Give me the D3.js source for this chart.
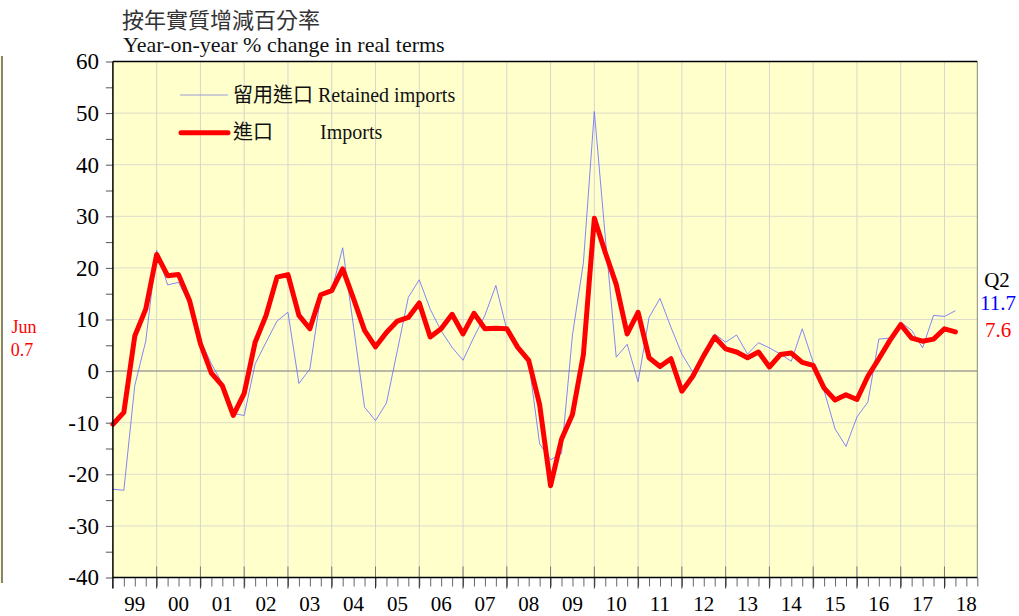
<!DOCTYPE html>
<html><head><meta charset="utf-8">
<script src="https://cdn.jsdelivr.net/npm/d3@7/dist/d3.min.js"></script>
<style>body{margin:0;background:#fff}svg{display:block}</style>
</head><body>
<svg id="c" width="1019" height="616"></svg>
<script>
// ---- data (quarterly, 1999 Q1 .. 2018 Q2) ----
const startYear = 1999;
const yearLabels = ["99","00","01","02","03","04","05","06","07","08","09","10","11","12","13","14","15","16","17","18"];
const yTicks = [-40,-30,-20,-10,0,10,20,30,40,50,60];
const imports = [
 -10.3,-8.0,6.8,12.0, 22.6,18.5,18.7,13.7, 5.3,-0.4,-2.8,-8.6, -4.3,5.6,10.8,18.2,
 18.7,10.8,8.2,14.8, 15.6,19.8,14.0,7.9, 4.7,7.5,9.7,10.4, 13.2,6.6,8.2,11.0,
 7.2,11.2,8.2,8.3, 8.2,4.6,2.1,-6.5, -22.2,-13.2,-8.4,3.2, 29.6,23.0,16.8,7.2,
 11.4,2.6,0.9,2.4, -3.9,-1.0,3.0,6.6, 4.3,3.7,2.6,3.7, 0.8,3.2,3.5,1.7,
 1.1,-3.3,-5.6,-4.6, -5.5,-1.0,2.4,5.9, 9.0,6.4,5.8,6.2, 8.2,7.6];
const retainedImports = [
 -22.9,-23.1,-2.8,5.8, 23.4,16.7,17.2,13.0, 6.0,1.4,-2.4,-8.2, -8.6,1.4,5.6,9.7,
 11.4,-2.4,0.4,14.6, 15.6,23.9,8.5,-7.0, -9.6,-6.2,4.0,14.3, 17.7,12.0,7.8,4.6,
 2.1,6.6,10.8,16.6, 8.0,4.0,1.9,-14.1, -17.2,-16.0,7.0,21.0, 50.3,26.0,2.7,5.2,
 -2.1,10.4,14.1,8.5, 3.3,-0.2,3.0,7.2, 5.6,7.0,3.3,5.5, 4.5,3.3,1.9,8.2,
 1.7,-3.8,-11.2,-14.6, -8.9,-6.0,6.2,6.4, 9.5,7.9,4.5,10.8, 10.6,11.7];
const seriesNames = {retained:"留用進口", retainedEn:"Retained imports", imp:"進口", impEn:"Imports"};
const latest = {label:"Q2", retained:"11.7", imp:"7.6"};
const leftNote = {label:"Jun", value:"0.7"};

// ---- layout ----
const svg = d3.select("#c");
const L = 112.9, R = 977.3, T = 61.5, B = 577.5;
const nQ = 79; // quarters shown (through 2018 Q3)
const x = d3.scaleLinear().domain([0, nQ]).range([L, R]);
const y = d3.scaleLinear().domain([-40, 60]).range([B, T]);
const serif = "'Liberation Serif','Times New Roman',serif";
const cjk = "'Liberation Serif','Noto Sans CJK TC','Noto Sans CJK SC',serif";

// left neighbour chart fragment
svg.append("rect").attr("x",0).attr("y",56).attr("width",2.5).attr("height",527).attr("fill","#ffffcc");
svg.append("line").attr("x1",2).attr("x2",2).attr("y1",56).attr("y2",583).attr("stroke","#333").attr("stroke-width",1.2);

// plot background
svg.append("rect").attr("x",L).attr("y",T).attr("width",R-L).attr("height",B-T).attr("fill","#ffffcc");

// grid
svg.append("g").selectAll("line").data(yTicks.filter(v=>v!==0 && v!==60 && v!==-40)).join("line")
  .attr("x1",L).attr("x2",R).attr("y1",d=>y(d)).attr("y2",d=>y(d))
  .attr("stroke","#dcdccc").attr("stroke-width",1);
svg.append("g").selectAll("line").data(d3.range(4, nQ, 4)).join("line")
  .attr("x1",d=>x(d)).attr("x2",d=>x(d)).attr("y1",T).attr("y2",B)
  .attr("stroke","#d6d6cc").attr("stroke-width",1);
svg.append("line").attr("x1",L).attr("x2",R).attr("y1",y(0)).attr("y2",y(0))
  .attr("stroke","#a0a098").attr("stroke-width",1.5);

// major tick stubs inside plot
svg.append("g").selectAll("line").data(d3.range(4, nQ, 4)).join("line")
  .attr("x1",d=>x(d)).attr("x2",d=>x(d)).attr("y1",B-11).attr("y2",B)
  .attr("stroke","#777").attr("stroke-width",1);

// frame
svg.append("line").attr("x1",R).attr("x2",R).attr("y1",T).attr("y2",B).attr("stroke","#8a8a70").attr("stroke-width",1);
svg.append("line").attr("x1",L).attr("x2",R).attr("y1",T).attr("y2",T).attr("stroke","#000").attr("stroke-width",1.5);

// lines
const line = d3.line().x((d,i)=>x(i)).y(d=>y(d));
svg.append("path").datum(retainedImports).attr("d",line).attr("fill","none")
  .attr("stroke","#6e6eff").attr("stroke-width",0.85).attr("stroke-linejoin","miter");
svg.append("path").datum(imports).attr("d",line).attr("fill","none")
  .attr("stroke","#ff0000").attr("stroke-width",5).attr("stroke-linejoin","round").attr("stroke-linecap","round");

// y axis
const yAxis = d3.axisLeft(y).tickValues(d3.range(-40,61,5)).tickSize(7).tickPadding(7)
  .tickFormat(d => d % 10 === 0 ? d : "");
const gy = svg.append("g").attr("transform",`translate(${L},0)`).call(yAxis);
gy.select(".domain").remove();
gy.selectAll(".tick line").attr("stroke","#555");
gy.selectAll(".tick text").attr("font-family",serif).attr("font-size",23).attr("fill","#000");
svg.append("line").attr("x1",L).attr("x2",L).attr("y1",T).attr("y2",B+11).attr("stroke","#000").attr("stroke-width",1.5);

// x axis: minor quarter ticks, major year ticks
const xAxis = d3.axisBottom(x).tickValues(d3.range(0, nQ+1)).tickSize(9).tickFormat("");
const gx = svg.append("g").attr("transform",`translate(0,${B})`).call(xAxis);
gx.select(".domain").remove();
gx.selectAll(".tick line").attr("stroke","#666").attr("stroke-width",1);
svg.append("g").selectAll("line").data(d3.range(4, nQ, 4)).join("line")
  .attr("x1",d=>x(d)).attr("x2",d=>x(d)).attr("y1",B).attr("y2",B+11)
  .attr("stroke","#333").attr("stroke-width",1);
svg.append("line").attr("x1",L).attr("x2",R).attr("y1",B).attr("y2",B).attr("stroke","#000").attr("stroke-width",1.5);
svg.append("g").selectAll("text").data(yearLabels).join("text")
  .attr("x",(d,i)=>x(i*4+2)).attr("y",611).attr("text-anchor","middle")
  .attr("font-family",serif).attr("font-size",21).text(d=>d);

// titles
svg.append("text").attr("x",122).attr("y",28).attr("font-family",cjk).attr("font-size",22).attr("fill","#333").text("按年實質增減百分率");
svg.append("text").attr("x",123).attr("y",51.7).attr("font-family",serif).attr("font-size",22).attr("fill","#111").text("Year-on-year % change in real terms");

// legend
svg.append("line").attr("x1",180).attr("x2",228).attr("y1",95).attr("y2",95).attr("stroke","#9a9ad8").attr("stroke-width",1);
svg.append("text").attr("x",233).attr("y",101.5).attr("font-family",cjk).attr("font-size",20).attr("fill","#111")
  .text(seriesNames.retained + " " + seriesNames.retainedEn);
svg.append("line").attr("x1",181).attr("x2",228).attr("y1",132.7).attr("y2",132.7).attr("stroke","#ff0000").attr("stroke-width",5).attr("stroke-linecap","round");
svg.append("text").attr("x",233).attr("y",139).attr("font-family",cjk).attr("font-size",20).attr("fill","#111").text(seriesNames.imp);
svg.append("text").attr("x",320).attr("y",139).attr("font-family",serif).attr("font-size",20).attr("fill","#111").text(seriesNames.impEn);

// right annotations
svg.append("text").attr("x",997).attr("y",287).attr("text-anchor","middle").attr("font-family",serif).attr("font-size",21).text(latest.label);
svg.append("text").attr("x",998).attr("y",310).attr("text-anchor","middle").attr("font-family",serif).attr("font-size",21).attr("fill","#0000ff").text(latest.retained);
svg.append("text").attr("x",998).attr("y",337).attr("text-anchor","middle").attr("font-family",serif).attr("font-size",21).attr("fill","#ff0000").text(latest.imp);

// left annotation
svg.append("text").attr("x",24).attr("y",333).attr("text-anchor","middle").attr("font-family",serif).attr("font-size",18).attr("fill","#ff0000").text(leftNote.label);
svg.append("text").attr("x",22).attr("y",356).attr("text-anchor","middle").attr("font-family",serif).attr("font-size",18).attr("fill","#ff0000").text(leftNote.value);
</script>
</body></html>
